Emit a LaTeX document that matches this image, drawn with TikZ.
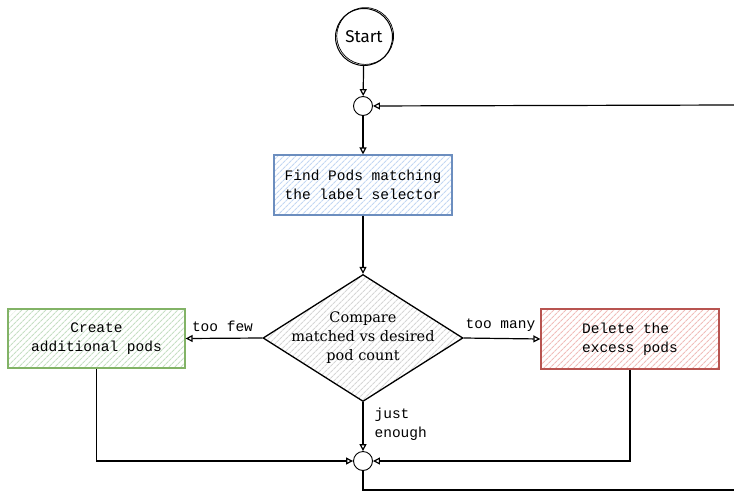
\documentclass[tikz,border=0pt]{standalone}
\usepackage{fontspec}
\setmainfont{DejaVu Serif}
\newfontfamily\codefont{Liberation Mono}
\newfontfamily\handfont{Fira Sans}
\usetikzlibrary{positioning,shapes.geometric,arrows.meta,patterns.meta}

\definecolor{findline}{HTML}{6C8EBF}
\definecolor{findhatch}{HTML}{C3D7F3}
\definecolor{createline}{HTML}{82B366}
\definecolor{createhatch}{HTML}{C6DFC4}
\definecolor{deleteline}{HTML}{B85450}
\definecolor{deletehatch}{HTML}{F0BDBA}
\definecolor{comparehatch}{HTML}{D6D6D6}

\tikzset{
  flow/.style={line width=1.2pt,-{Triangle[open,length=7pt,width=7pt]}},
  link/.style={line width=1.2pt},
  joint/.style={circle,draw,line width=0.9pt,minimum size=19pt,inner sep=0pt},
  stepbox/.style={rectangle,draw=#1line,line width=1.3pt,
    pattern={Lines[angle=45,distance=4pt,line width=1.1pt]},pattern color=#1hatch,
    minimum width=178pt,minimum height=60pt,align=center,
    font=\codefont\fontsize{14.5}{19}\selectfont},
  decision/.style={diamond,draw,line width=1.3pt,aspect=1.57,inner sep=0pt,
    minimum width=200pt,minimum height=127pt,
    pattern={Lines[angle=45,distance=4pt,line width=1.1pt]},pattern color=comparehatch},
  branch/.style={font=\codefont\fontsize{14.5}{19}\selectfont,align=left,inner sep=0pt}
}

\begin{document}
\begin{tikzpicture}[x=1pt,y=-1pt]
  \useasboundingbox (0,0) rectangle (734,491);
  % start and entry joint
  \node [circle,draw,line width=1pt,minimum size=57pt,inner sep=0pt,
    font=\handfont\fontsize{17}{17}\selectfont] (start) at (364,37) {Start};
  \draw [line width=0.7pt] ([shift={(1.2,-1)}]start.center) circle (28.4);
  \node [joint] (join1) at (363,106) {};
  \coordinate (loopin) at (734,105);
  % steps
  \node [stepbox=find] (find) at (363,185) {Find Pods matching\\the label selector};
  \node [decision] (compare) at (363,338) {};
  \node [align=center,font=\fontsize{14.5}{19}\selectfont] (comparetext)
    at (compare.center) {Compare\\matched vs desired\\pod count};
  \node [stepbox=create,minimum width=177pt,minimum height=59pt]
    (create) at (96.5,338.5) {Create\\additional pods};
  \node [stepbox=delete,align=left] (delete) at (630,339) {Delete the\\excess pods};
  % exit joint
  \node [joint] (join2) at (363,461) {};
  \coordinate (loopout) at (734,490);
  % connectors
  \draw [flow] (start) -- (join1);
  \draw [flow] (loopin) -- (join1);
  \draw [flow] (join1) -- (find);
  \draw [flow] (find) -- (compare);
  \draw [flow] (compare.west) -- (create.east)
    node [branch,pos=0.52,above=6pt] (fewlabel) {too few};
  \draw [flow] (compare.east) -- (delete.west)
    node [branch,pos=0.48,above=6pt] (manylabel) {too many};
  \draw [flow] (compare.south) -- (join2)
    node [branch,pos=0.45,anchor=west,xshift=11pt] (enoughlabel) {just\\enough};
  \draw [flow] (create.south) |- (join2);
  \draw [flow] (delete.south) |- (join2);
  \draw [link] (join2) |- (loopout);
\end{tikzpicture}
\end{document}
